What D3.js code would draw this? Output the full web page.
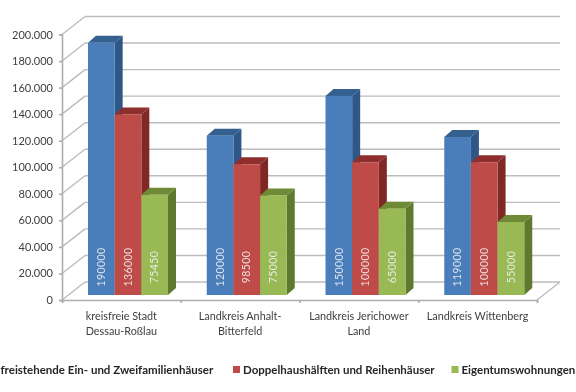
<!DOCTYPE html>
<html lang="de">
<head>
  <meta charset="UTF-8">
  <script src="https://d3js.org/d3.v7.min.js"></script>
  <title>Immobilienpreise</title>
</head>
<body style="background-color:#fff;margin:0;overflow:hidden;">
  <div id="chart" style="width:576px;height:392px;"></div>
  <script>
    const categories = ["kreisfreie Stadt|Dessau-Roßlau", "Landkreis Anhalt-|Bitterfeld", "Landkreis Jerichower|Land", "Landkreis Wittenberg"];
    const seriesNames = ["freistehende Ein- und Zweifamilienhäuser", "Doppelhaushälften und Reihenhäuser", "Eigentumswohnungen"];
    const einfamilien = [190000, 120000, 150000, 119000];
    const doppel = [136000, 98500, 100000, 100000];
    const wohnungen = [75450, 75000, 65000, 55000];
    const yTicks = [0, 20000, 40000, 60000, 80000, 100000, 120000, 140000, 160000, 180000, 200000];

    const seriesValues = [einfamilien, doppel, wohnungen];
    const frontColor = ["#4a7ebb", "#be4b48", "#98b954"];
    const topColor = ["#34608f", "#8e2f2d", "#6f8a37"];
    const sideColor = ["#2f5788", "#7f2826", "#5f7a2e"];
    const font = "Lato, 'Open Sans', sans-serif";

    const width = 576, height = 392;
    const plotLeft = 62, plotRight = 537, plotBottom = 300, plotTop = 34.5;
    // wall offset and bar depth of the fake 3d
    const wallX = 23, wallY = -18, depthX = 8, depthY = -7, liftY = -5;

    const svg = d3.select("#chart").append("svg")
        .attr("width", width)
        .attr("height", height)
        .style("display", "block")
        .style("filter", "blur(0.45px)"); // the source is a soft scan

    const y = d3.scaleLinear().domain([0, 200000]).range([plotBottom, plotTop]);
    const x = d3.scaleBand().domain(d3.range(categories.length)).range([plotLeft, plotRight]);
    const xBar = d3.scaleBand().domain(d3.range(3)).range([26, 106]);

    const fmt = d => d === 0 ? "0" : d3.format(",")(d).replace(",", ".");

    // back wall grid lines and left wall diagonals
    const grid = svg.append("g").attr("fill", "none").attr("stroke", "#bcbcbc").attr("stroke-width", 1.4);
    grid.selectAll(".back").data(yTicks).join("line")
        .attr("class", "back")
        .attr("x1", plotLeft + wallX).attr("x2", plotRight + wallX)
        .attr("y1", d => y(d) + wallY).attr("y2", d => y(d) + wallY);
    grid.selectAll(".diag").data(yTicks).join("line")
        .attr("class", "diag")
        .attr("x1", plotLeft).attr("x2", plotLeft + wallX)
        .attr("y1", d => y(d)).attr("y2", d => y(d) + wallY);
    grid.append("line")
        .attr("x1", plotRight).attr("x2", plotRight + wallX)
        .attr("y1", y(0)).attr("y2", y(0) + wallY);

    // axes
    const axisY = svg.append("g")
        .attr("transform", `translate(${plotLeft},0)`)
        .call(d3.axisLeft(y).tickValues(yTicks).tickFormat(fmt).tickSize(3).tickPadding(6));
    axisY.selectAll("path,line").attr("stroke", "#adadad").attr("stroke-width", 1.6);
    axisY.selectAll("text").attr("font-family", font).attr("font-size", 11).attr("fill", "#404040");

    const axisX = svg.append("g")
        .attr("transform", `translate(0,${plotBottom})`)
        .call(d3.axisBottom(d3.scalePoint().domain(d3.range(5)).range([plotLeft, plotRight]))
          .tickFormat("").tickSize(3));
    axisX.selectAll("path,line").attr("stroke", "#adadad").attr("stroke-width", 1.6);

    // bars, one group per category
    const groups = svg.selectAll(".group").data(categories).join("g")
        .attr("class", "group")
        .attr("transform", (d, i) => `translate(${x(i)},${liftY})`);

    groups.each(function(cat, c) {
      const g = d3.select(this);
      seriesValues.forEach((values, s) => {
        const x0 = xBar(s), x1 = x0 + xBar.bandwidth(), yt = y(values[c]), yb = y(0);
        g.append("path").attr("fill", sideColor[s])
            .attr("d", `M${x1},${yt}L${x1 + depthX},${yt + depthY}L${x1 + depthX},${yb + depthY}L${x1},${yb}Z`);
        g.append("path").attr("fill", topColor[s])
            .attr("d", `M${x0},${yt}L${x0 + depthX},${yt + depthY}L${x1 + depthX},${yt + depthY}L${x1},${yt}Z`);
        g.append("rect").attr("fill", frontColor[s])
            .attr("x", x0).attr("width", xBar.bandwidth())
            .attr("y", yt).attr("height", yb - yt);
        g.append("text")
            .text(values[c])
            .attr("transform", `translate(${x0 + xBar.bandwidth() / 2},${yb - 28}) rotate(-90)`)
            .attr("text-anchor", "middle")
            .attr("dy", "0.35em")
            .attr("font-family", font)
            .attr("font-size", 10.5)
            .attr("letter-spacing", 0.4)
            .attr("fill", "#f0f0f0")
            .attr("fill-opacity", 0.9);
      });
      // category label on up to two lines
      const label = g.append("text")
          .attr("text-anchor", "middle")
          .attr("font-family", font)
          .attr("font-size", 10.8)
          .attr("fill", "#404040");
      cat.split("|").forEach((line, i) => {
        label.append("tspan")
            .attr("x", x.bandwidth() / 2)
            .attr("y", 320 + i * 14.5 - liftY)
            .text(line);
      });
    });

    // legend, first swatch falls off the left edge like the source
    const legendX = [0.5, 243, 461.5];
    const legend = svg.selectAll(".legend").data(seriesNames).join("g")
        .attr("class", "legend")
        .attr("transform", (d, i) => `translate(${legendX[i]},370)`);
    legend.append("rect")
        .attr("x", -10).attr("y", -4).attr("width", 7).attr("height", 7)
        .attr("fill", (d, i) => frontColor[i]);
    legend.append("text")
        .text(d => d)
        .attr("dy", "0.35em")
        .attr("font-family", font)
        .attr("font-size", 11.5)
        .attr("font-weight", "bold")
        .attr("fill", "#262626");
  </script>
</body>
</html>
